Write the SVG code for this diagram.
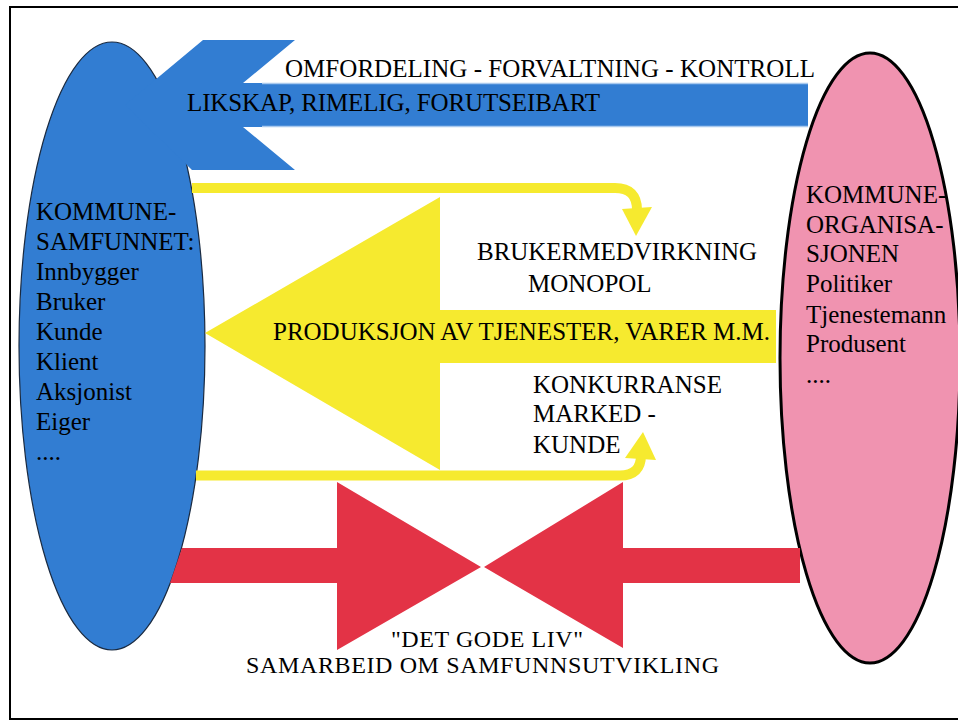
<svg xmlns="http://www.w3.org/2000/svg" width="958" height="723" viewBox="0 0 958 723">
<style>
.t{font-family:'Liberation Serif',serif !important;font-size:25px;fill:#000}
.blue{fill:#327dd2}
.yel{fill:#f6ea2f}
.red{fill:#e33346}
.ybar{fill:none;stroke:#f6ea2f;stroke-width:10}
.edge{stroke:#a9c9ee;stroke-width:1.5}
</style>
<rect x="0" y="0" width="958" height="723" fill="#fff"/>
<rect x="10" y="7" width="960" height="712" fill="none" stroke="#000" stroke-width="2"/>
<g id="node-kommunesamfunnet">
<ellipse cx="112" cy="346" rx="93" ry="304" class="blue" stroke="#1a2a40" stroke-width="1.2"/>
<text class="t" style="font-family:'Liberation Serif',serif" x="36" y="220">KOMMUNE-</text>
<text class="t" style="font-family:'Liberation Serif',serif" x="36" y="250">SAMFUNNET:</text>
<text class="t" style="font-family:'Liberation Serif',serif" x="36" y="280">Innbygger</text>
<text class="t" style="font-family:'Liberation Serif',serif" x="36" y="310">Bruker</text>
<text class="t" style="font-family:'Liberation Serif',serif" x="36" y="340">Kunde</text>
<text class="t" style="font-family:'Liberation Serif',serif" x="36" y="370">Klient</text>
<text class="t" style="font-family:'Liberation Serif',serif" x="36" y="400">Aksjonist</text>
<text class="t" style="font-family:'Liberation Serif',serif" x="36" y="430">Eiger</text>
<text class="t" style="font-family:'Liberation Serif',serif" x="36" y="460">....</text>
</g>
<g id="node-kommuneorganisasjonen">
<ellipse cx="870" cy="358" rx="90" ry="305" fill="#f093b0" stroke="#000" stroke-width="3"/>
<text class="t" style="font-family:'Liberation Serif',serif" x="806" y="203">KOMMUNE-</text>
<text class="t" style="font-family:'Liberation Serif',serif" x="806" y="233">ORGANISA-</text>
<text class="t" style="font-family:'Liberation Serif',serif" x="806" y="262">SJONEN</text>
<text class="t" style="font-family:'Liberation Serif',serif" x="806" y="292">Politiker</text>
<text class="t" style="font-family:'Liberation Serif',serif" x="806" y="323">Tjenestemann</text>
<text class="t" style="font-family:'Liberation Serif',serif" x="806" y="352">Produsent</text>
<text class="t" style="font-family:'Liberation Serif',serif" x="806" y="383">....</text>
</g>
<g id="connectors">
<polygon class="blue" points="808,83 243,83 295,40 203,40 125,105 192,170 295,170 243,127 808,127"/>
<line class="edge" x1="262" y1="83.5" x2="808" y2="83.5"/>
<line class="edge" x1="262" y1="126.5" x2="808" y2="126.5"/>
<polygon class="yel" points="440,197 440,310 776,310 776,363 440,363 440,470 205,333"/>
<path class="ybar" d="M192 188 H615 Q637 188 637 210"/>
<polygon class="yel" points="622,209 652,207 636,236"/>
<path class="ybar" d="M196 475.5 H620 Q641 475.5 641 455" stroke-width="11"/>
<polygon class="yel" points="625,458 656,460 643,432"/>
<polygon class="red" points="182,548 337,548 337,482 481,567 337,650 337,583 170,583"/>
<polygon class="red" points="800,548 623,548 623,482 484,567 623,648 623,583 800,583"/>
</g>
<g id="labels">
<text class="t" style="font-family:'Liberation Serif',serif" x="285" y="77" textLength="530">OMFORDELING - FORVALTNING - KONTROLL</text>
<text class="t" style="font-family:'Liberation Serif',serif" x="187" y="111" textLength="413">LIKSKAP, RIMELIG, FORUTSEIBART</text>
<text class="t" style="font-family:'Liberation Serif',serif" x="477" y="260" textLength="280">BRUKERMEDVIRKNING</text>
<text class="t" style="font-family:'Liberation Serif',serif" x="528" y="292">MONOPOL</text>
<text class="t" style="font-family:'Liberation Serif',serif" x="273" y="340" textLength="497">PRODUKSJON AV TJENESTER, VARER M.M.</text>
<text class="t" style="font-family:'Liberation Serif',serif" x="533" y="393">KONKURRANSE</text>
<text class="t" style="font-family:'Liberation Serif',serif" x="533" y="422">MARKED -</text>
<text class="t" style="font-family:'Liberation Serif',serif" x="533" y="453">KUNDE</text>
<text class="t" style="font-family:'Liberation Serif',serif;font-size:24px" x="487" y="647" text-anchor="middle" textLength="192">"DET GODE LIV"</text>
<text class="t" style="font-family:'Liberation Serif',serif;font-size:24px" x="482.5" y="673" text-anchor="middle" textLength="473">SAMARBEID OM SAMFUNNSUTVIKLING</text>
</g>
</svg>
